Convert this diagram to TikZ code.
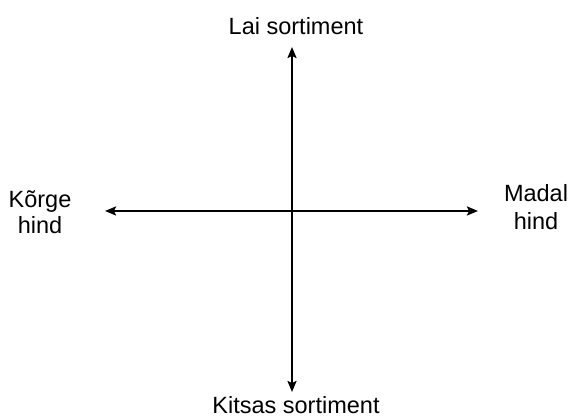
\documentclass[tikz,border=0pt]{standalone}
\usepackage{fontspec}
\setmainfont{Liberation Sans}
\usetikzlibrary{arrows.meta}
\begin{document}
\begin{tikzpicture}[x=1pt,y=1pt,
  lbl/.style={inner sep=0pt,anchor=base,font=\fontsize{23.5}{27}\selectfont},
  axis/.style={line width=2pt,{Stealth[length=11pt,width=9pt,inset=2pt]}-{Stealth[length=11pt,width=9pt,inset=2pt]}}]
\useasboundingbox (0,0) rectangle (570,419);
\coordinate (top) at (292,372);
\coordinate (bottom) at (292,27);
\coordinate (left) at (105,208);
\coordinate (right) at (478,208);
\draw[axis] (bottom) -- (top);
\draw[axis] (left) -- (right);
\node[lbl] (lai) at (296,384) {Lai sortiment};
\node[lbl] (kitsas) at (296,5) {Kitsas sortiment};
\node[lbl] (korge) at (40,211) {Kõrge};
\node[lbl] (korgehind) at (40,185) {hind};
\node[lbl] (madal) at (536,217) {Madal};
\node[lbl] (madalhind) at (536,189) {hind};
\end{tikzpicture}
\end{document}
